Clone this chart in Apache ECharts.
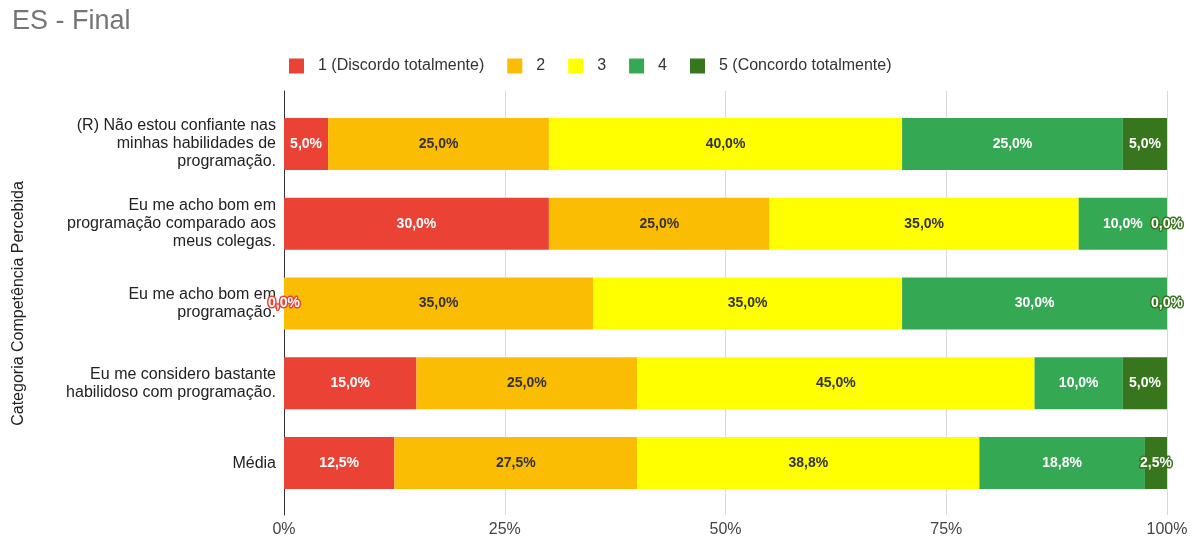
<!DOCTYPE html>
<html><head><meta charset="utf-8">
<script src="https://cdn.jsdelivr.net/npm/echarts@6/dist/echarts.min.js"></script>
<style>html,body{margin:0;padding:0;background:#fff}#c{width:1200px;height:539px}</style>
</head><body><div id="c"></div>
<script>
const categories = [
  "(R) Não estou confiante nas\nminhas habilidades de\nprogramação.",
  "Eu me acho bom em\nprogramação comparado aos\nmeus colegas.",
  "Eu me acho bom em\nprogramação.",
  "Eu me considero bastante\nhabilidoso com programação.",
  "Média"
];
const seriesNames = ["1 (Discordo totalmente)", "2", "3", "4", "5 (Concordo totalmente)"];
const s1 = [5, 30, 0, 15, 12.5];
const s2 = [25, 25, 35, 25, 27.5];
const s3 = [40, 35, 35, 45, 38.75];
const s4 = [25, 10, 30, 10, 18.75];
const s5 = [5, 0, 0, 5, 2.5];
const xTicks = [0, 25, 50, 75, 100];

const FONT = '"Liberation Sans", Arial, sans-serif';
const colors = ["#ea4335", "#fbbc04", "#ffff00", "#34a853", "#38761d"];
const labelColors = ["#fff", "#333", "#333", "#fff", "#fff"];
const values = [s1, s2, s3, s4, s5];

function fmt(v) { return v.toFixed(1).replace('.', ',') + '%'; }

const series = values.map((arr, i) => ({
  name: seriesNames[i],
  type: 'bar',
  stack: 'total',
  xAxisIndex: 1,
  yAxisIndex: 1,
  barWidth: 52,
  itemStyle: { color: colors[i] },
  data: arr.map(v => {
    const small = v < 4;
    return {
      value: v,
      label: small ? { color: '#fff', textBorderColor: colors[i], textBorderWidth: 3 } : {}
    };
  }),
  label: {
    show: true,
    position: 'inside',
    color: labelColors[i],
    fontFamily: FONT,
    fontSize: 14,
    fontWeight: 'bold',
    formatter: p => fmt(p.value)
  }
}));

const chart = echarts.init(document.getElementById('c'), null, { renderer: 'canvas' });
chart.setOption({
  animation: false,
  title: {
    text: 'ES - Final', left: 7, top: 3,
    textStyle: { fontFamily: FONT, fontSize: 27, fontWeight: 'normal', color: '#757575' }
  },
  legend: {
    top: 53, left: 284,
    itemWidth: 15, itemHeight: 15, itemGap: 23,
    icon: 'rect',
    textStyle: { fontFamily: FONT, fontSize: 16, color: '#333', padding: [0, 0, 0, 9] },
    data: seriesNames
  },
  grid: [
    { left: 284, right: 33, top: 91, bottom: 24, containLabel: false },
    { left: 284, right: 33, top: 104, bottom: 36, containLabel: false }
  ],
  xAxis: [
    {
      gridIndex: 0, type: 'value', min: xTicks[0], max: xTicks[xTicks.length - 1], interval: 25,
      axisLine: { show: false }, axisTick: { show: false },
      splitLine: { show: true, lineStyle: { color: '#d9d9d9', width: 1 } },
      axisLabel: { formatter: '{value}%', fontFamily: FONT, fontSize: 16, color: '#444', margin: 7 }
    },
    {
      gridIndex: 1, type: 'value', min: 0, max: 100, show: false
    }
  ],
  yAxis: [
    {
      gridIndex: 0, type: 'value', min: 0, max: 1,
      axisLine: { show: true, lineStyle: { color: '#333', width: 1 } },
      axisTick: { show: false }, axisLabel: { show: false }, splitLine: { show: false }
    },
    {
      gridIndex: 1, type: 'category', inverse: true, data: categories,
      axisLine: { show: false }, axisTick: { show: false },
      axisLabel: { fontFamily: FONT, fontSize: 16, color: '#222', lineHeight: 18, margin: 8, align: 'right' },
      name: 'Categoria Competência Percebida', nameLocation: 'middle', nameGap: 257,
      nameTextStyle: { fontFamily: FONT, fontSize: 16, color: '#222' }
    }
  ],
  series: series
});
</script>
</body></html>
